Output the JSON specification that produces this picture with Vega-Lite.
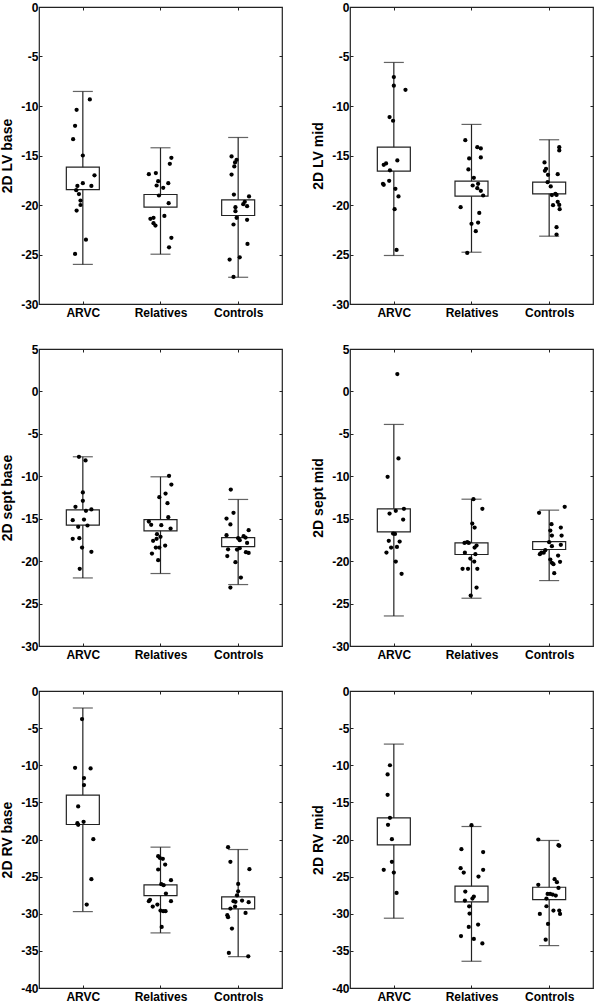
{
"$schema":"https://vega.github.io/schema/vega-lite/v6.json",
"padding":{"left":0,"top":0,"right":0,"bottom":0},
"background":"white",
"columns":2,
"spacing":{"row":45,"column":68},
"bounds":"flush",
"config":{
 "view":{"stroke":"#222","strokeWidth":1.2},
 "scale":{"zero":false},
 "axis":{"grid":false,"domain":false,"labelFont":"Liberation Sans","labelFontWeight":"bold","labelFontSize":12,"labelColor":"black","titleFont":"Liberation Sans","titleFontWeight":"bold","titleFontSize":14,"titleColor":"black","tickColor":"#222","tickSize":-3,"labelPadding":4},
 "axisBottom":{"labelPadding":6}
},
"datasets":{
"sum":[
{"p":"LVb","g":1,"whi":-8.53,"wlo":-26.0,"bhi":-16.18,"blo":-18.44},
{"p":"LVb","g":2,"whi":-14.22,"wlo":-24.97,"bhi":-18.94,"blo":-20.22},
{"p":"LVb","g":3,"whi":-13.18,"wlo":-27.3,"bhi":-19.48,"blo":-21.06},
{"p":"LVm","g":1,"whi":-5.6,"wlo":-25.1,"bhi":-14.16,"blo":-16.58},
{"p":"LVm","g":2,"whi":-11.86,"wlo":-24.77,"bhi":-17.59,"blo":-19.11},
{"p":"LVm","g":3,"whi":-13.41,"wlo":-23.15,"bhi":-17.69,"blo":-18.87},
{"p":"Sb","g":1,"whi":-7.7,"wlo":-21.98,"bhi":-13.95,"blo":-15.76},
{"p":"Sb","g":2,"whi":-10.06,"wlo":-21.46,"bhi":-15.1,"blo":-16.43},
{"p":"Sb","g":3,"whi":-12.73,"wlo":-22.76,"bhi":-17.22,"blo":-18.28},
{"p":"Sm","g":1,"whi":-3.89,"wlo":-26.46,"bhi":-13.84,"blo":-16.55},
{"p":"Sm","g":2,"whi":-12.7,"wlo":-24.37,"bhi":-17.85,"blo":-19.22},
{"p":"Sm","g":3,"whi":-13.99,"wlo":-22.29,"bhi":-17.69,"blo":-18.63},
{"p":"RVb","g":1,"whi":-2.29,"wlo":-29.71,"bhi":-14.02,"blo":-17.98},
{"p":"RVb","g":2,"whi":-21.03,"wlo":-32.58,"bhi":-26.11,"blo":-27.55},
{"p":"RVb","g":3,"whi":-21.35,"wlo":-35.78,"bhi":-27.73,"blo":-29.35},
{"p":"RVm","g":1,"whi":-7.15,"wlo":-30.6,"bhi":-17.08,"blo":-20.72},
{"p":"RVm","g":2,"whi":-18.25,"wlo":-36.4,"bhi":-26.29,"blo":-28.4},
{"p":"RVm","g":3,"whi":-20.13,"wlo":-34.29,"bhi":-26.43,"blo":-28.09}
],
"pts":[
{"p":"LVb","x":1.09,"v":-9.34},{"p":"LVb","x":0.92,"v":-10.38},{"p":"LVb","x":0.90,"v":-12.0},{"p":"LVb","x":0.875,"v":-13.35},{"p":"LVb","x":1.0,"v":-15.0},{"p":"LVb","x":1.15,"v":-17.0},{"p":"LVb","x":1.0,"v":-17.8},{"p":"LVb","x":1.11,"v":-18.07},{"p":"LVb","x":0.93,"v":-18.07},{"p":"LVb","x":0.915,"v":-18.5},{"p":"LVb","x":0.95,"v":-18.9},{"p":"LVb","x":0.97,"v":-19.55},{"p":"LVb","x":0.97,"v":-20.0},{"p":"LVb","x":0.92,"v":-20.56},{"p":"LVb","x":1.04,"v":-23.5},{"p":"LVb","x":0.90,"v":-24.94},
{"p":"LVb","x":2.14,"v":-15.23},{"p":"LVb","x":2.12,"v":-15.84},{"p":"LVb","x":1.85,"v":-16.89},{"p":"LVb","x":1.94,"v":-16.78},{"p":"LVb","x":1.97,"v":-17.6},{"p":"LVb","x":2.10,"v":-17.8},{"p":"LVb","x":1.95,"v":-18.03},{"p":"LVb","x":2.035,"v":-18.27},{"p":"LVb","x":1.98,"v":-19.04},{"p":"LVb","x":2.105,"v":-19.82},{"p":"LVb","x":2.05,"v":-21.1},{"p":"LVb","x":1.91,"v":-21.3},{"p":"LVb","x":1.87,"v":-21.4},{"p":"LVb","x":1.91,"v":-21.84},{"p":"LVb","x":1.935,"v":-22.08},{"p":"LVb","x":2.14,"v":-23.32},{"p":"LVb","x":2.11,"v":-24.27},
{"p":"LVb","x":2.915,"v":-15.1},{"p":"LVb","x":2.98,"v":-15.44},{"p":"LVb","x":2.96,"v":-15.7},{"p":"LVb","x":2.95,"v":-16.1},{"p":"LVb","x":2.915,"v":-16.92},{"p":"LVb","x":2.945,"v":-18.94},{"p":"LVb","x":3.14,"v":-19.14},{"p":"LVb","x":3.085,"v":-19.68},{"p":"LVb","x":3.065,"v":-19.92},{"p":"LVb","x":3.115,"v":-20.12},{"p":"LVb","x":2.965,"v":-20.22},{"p":"LVb","x":2.965,"v":-20.63},{"p":"LVb","x":2.98,"v":-21.3},{"p":"LVb","x":3.115,"v":-21.5},{"p":"LVb","x":2.94,"v":-21.97},{"p":"LVb","x":3.12,"v":-23.93},{"p":"LVb","x":2.89,"v":-25.51},{"p":"LVb","x":3.02,"v":-25.28},{"p":"LVb","x":2.94,"v":-27.27},
{"p":"LVm","x":1.0,"v":-7.08},{"p":"LVm","x":1.0,"v":-7.95},{"p":"LVm","x":1.15,"v":-8.36},{"p":"LVm","x":0.945,"v":-11.12},{"p":"LVm","x":0.99,"v":-11.49},{"p":"LVm","x":0.87,"v":-15.94},{"p":"LVm","x":0.90,"v":-15.8},{"p":"LVm","x":1.045,"v":-15.5},{"p":"LVm","x":0.95,"v":-16.5},{"p":"LVm","x":0.86,"v":-17.86},{"p":"LVm","x":0.87,"v":-17.96},{"p":"LVm","x":0.94,"v":-17.56},{"p":"LVm","x":1.02,"v":-18.37},{"p":"LVm","x":1.06,"v":-19.14},{"p":"LVm","x":1.01,"v":-20.42},{"p":"LVm","x":1.035,"v":-24.54},
{"p":"LVm","x":1.92,"v":-13.45},{"p":"LVm","x":2.075,"v":-14.16},{"p":"LVm","x":2.12,"v":-14.29},{"p":"LVm","x":1.97,"v":-15.3},{"p":"LVm","x":2.12,"v":-15.2},{"p":"LVm","x":1.96,"v":-16.41},{"p":"LVm","x":2.03,"v":-17.26},{"p":"LVm","x":2.015,"v":-18.03},{"p":"LVm","x":2.085,"v":-17.86},{"p":"LVm","x":2.075,"v":-18.3},{"p":"LVm","x":2.12,"v":-18.57},{"p":"LVm","x":2.15,"v":-19.04},{"p":"LVm","x":1.86,"v":-20.22},{"p":"LVm","x":2.10,"v":-20.8},{"p":"LVm","x":2.0,"v":-21.9},{"p":"LVm","x":2.085,"v":-21.77},{"p":"LVm","x":2.055,"v":-22.65},{"p":"LVm","x":1.945,"v":-24.84},
{"p":"LVm","x":3.13,"v":-14.16},{"p":"LVm","x":3.13,"v":-14.49},{"p":"LVm","x":2.94,"v":-15.7},{"p":"LVm","x":2.96,"v":-16.35},{"p":"LVm","x":2.945,"v":-16.55},{"p":"LVm","x":3.11,"v":-16.89},{"p":"LVm","x":2.985,"v":-16.95},{"p":"LVm","x":2.98,"v":-17.7},{"p":"LVm","x":3.02,"v":-18.13},{"p":"LVm","x":3.08,"v":-18.87},{"p":"LVm","x":3.095,"v":-18.98},{"p":"LVm","x":3.035,"v":-19.0},{"p":"LVm","x":3.11,"v":-19.68},{"p":"LVm","x":3.05,"v":-20.02},{"p":"LVm","x":3.13,"v":-19.99},{"p":"LVm","x":3.135,"v":-20.42},{"p":"LVm","x":3.095,"v":-22.24},{"p":"LVm","x":3.095,"v":-22.98},
{"p":"Sb","x":0.95,"v":-7.7},{"p":"Sb","x":1.035,"v":-8.13},{"p":"Sb","x":1.0,"v":-11.91},{"p":"Sb","x":1.0,"v":-12.89},{"p":"Sb","x":0.905,"v":-13.6},{"p":"Sb","x":1.04,"v":-14.07},{"p":"Sb","x":1.11,"v":-13.91},{"p":"Sb","x":0.87,"v":-15.17},{"p":"Sb","x":1.015,"v":-15.1},{"p":"Sb","x":1.06,"v":-15.8},{"p":"Sb","x":0.94,"v":-15.96},{"p":"Sb","x":0.955,"v":-17.3},{"p":"Sb","x":0.87,"v":-17.37},{"p":"Sb","x":0.99,"v":-18.4},{"p":"Sb","x":1.11,"v":-18.9},{"p":"Sb","x":0.96,"v":-20.91},
{"p":"Sb","x":2.11,"v":-9.94},{"p":"Sb","x":2.14,"v":-10.97},{"p":"Sb","x":2.065,"v":-12.03},{"p":"Sb","x":1.985,"v":-12.46},{"p":"Sb","x":2.09,"v":-13.17},{"p":"Sb","x":2.10,"v":-14.82},{"p":"Sb","x":1.85,"v":-15.33},{"p":"Sb","x":1.88,"v":-15.72},{"p":"Sb","x":2.01,"v":-15.76},{"p":"Sb","x":2.13,"v":-16.16},{"p":"Sb","x":1.955,"v":-16.82},{"p":"Sb","x":2.0,"v":-17.14},{"p":"Sb","x":1.95,"v":-17.37},{"p":"Sb","x":1.905,"v":-17.61},{"p":"Sb","x":2.06,"v":-18.16},{"p":"Sb","x":1.94,"v":-18.4},{"p":"Sb","x":1.985,"v":-18.4},{"p":"Sb","x":1.89,"v":-19.1},{"p":"Sb","x":1.97,"v":-19.89},
{"p":"Sb","x":2.905,"v":-11.56},{"p":"Sb","x":2.94,"v":-14.3},{"p":"Sb","x":2.85,"v":-14.98},{"p":"Sb","x":2.90,"v":-15.68},{"p":"Sb","x":3.135,"v":-16.35},{"p":"Sb","x":2.85,"v":-16.94},{"p":"Sb","x":3.07,"v":-17.06},{"p":"Sb","x":3.0,"v":-17.3},{"p":"Sb","x":3.095,"v":-17.22},{"p":"Sb","x":3.02,"v":-17.53},{"p":"Sb","x":3.115,"v":-17.85},{"p":"Sb","x":2.87,"v":-18.6},{"p":"Sb","x":2.985,"v":-18.64},{"p":"Sb","x":3.02,"v":-18.48},{"p":"Sb","x":3.10,"v":-18.95},{"p":"Sb","x":3.135,"v":-19.03},{"p":"Sb","x":2.86,"v":-19.4},{"p":"Sb","x":2.965,"v":-20.12},{"p":"Sb","x":3.035,"v":-21.94},{"p":"Sb","x":2.90,"v":-23.12},
{"p":"Sm","x":1.045,"v":2.05},{"p":"Sm","x":1.06,"v":-7.9},{"p":"Sm","x":0.92,"v":-10.06},{"p":"Sm","x":0.945,"v":-14.39},{"p":"Sm","x":1.025,"v":-14.07},{"p":"Sm","x":1.13,"v":-13.84},{"p":"Sm","x":1.12,"v":-15.1},{"p":"Sm","x":0.99,"v":-16.75},{"p":"Sm","x":1.015,"v":-16.79},{"p":"Sm","x":0.935,"v":-17.61},{"p":"Sm","x":1.075,"v":-17.69},{"p":"Sm","x":0.965,"v":-18.4},{"p":"Sm","x":1.04,"v":-18.32},{"p":"Sm","x":0.905,"v":-18.99},{"p":"Sm","x":1.025,"v":-20.05},{"p":"Sm","x":1.10,"v":-21.5},
{"p":"Sm","x":2.025,"v":-12.7},{"p":"Sm","x":2.14,"v":-13.84},{"p":"Sm","x":2.01,"v":-15.57},{"p":"Sm","x":2.04,"v":-16.04},{"p":"Sm","x":1.91,"v":-17.85},{"p":"Sm","x":1.945,"v":-17.77},{"p":"Sm","x":1.965,"v":-17.85},{"p":"Sm","x":2.065,"v":-18.16},{"p":"Sm","x":2.04,"v":-18.4},{"p":"Sm","x":1.915,"v":-19.0},{"p":"Sm","x":2.05,"v":-19.18},{"p":"Sm","x":1.985,"v":-19.69},{"p":"Sm","x":2.035,"v":-20.05},{"p":"Sm","x":1.885,"v":-20.91},{"p":"Sm","x":1.955,"v":-20.91},{"p":"Sm","x":2.075,"v":-20.91},{"p":"Sm","x":2.065,"v":-23.12},{"p":"Sm","x":1.99,"v":-24.06},
{"p":"Sm","x":3.2,"v":-13.6},{"p":"Sm","x":2.87,"v":-14.3},{"p":"Sm","x":3.15,"v":-16.04},{"p":"Sm","x":3.03,"v":-15.65},{"p":"Sm","x":3.015,"v":-16.4},{"p":"Sm","x":3.035,"v":-16.98},{"p":"Sm","x":3.16,"v":-16.98},{"p":"Sm","x":3.0,"v":-17.77},{"p":"Sm","x":3.035,"v":-18.24},{"p":"Sm","x":3.15,"v":-18.08},{"p":"Sm","x":2.95,"v":-18.71},{"p":"Sm","x":2.93,"v":-19.0},{"p":"Sm","x":2.88,"v":-19.18},{"p":"Sm","x":2.90,"v":-19.0},{"p":"Sm","x":3.115,"v":-19.34},{"p":"Sm","x":3.015,"v":-19.81},{"p":"Sm","x":3.035,"v":-20.2},{"p":"Sm","x":3.055,"v":-20.36},{"p":"Sm","x":3.14,"v":-20.08},{"p":"Sm","x":3.065,"v":-21.42},
{"p":"RVb","x":0.99,"v":-3.78},{"p":"RVb","x":0.90,"v":-10.34},{"p":"RVb","x":1.10,"v":-10.43},{"p":"RVb","x":1.015,"v":-11.73},{"p":"RVb","x":1.015,"v":-12.67},{"p":"RVb","x":0.94,"v":-15.55},{"p":"RVb","x":0.94,"v":-18.02},{"p":"RVb","x":1.01,"v":-17.62},{"p":"RVb","x":0.93,"v":-17.8},{"p":"RVb","x":1.135,"v":-19.96},{"p":"RVb","x":1.11,"v":-25.35},{"p":"RVb","x":1.05,"v":-28.76},
{"p":"RVb","x":1.97,"v":-22.25},{"p":"RVb","x":1.99,"v":-22.47},{"p":"RVb","x":2.03,"v":-22.6},{"p":"RVb","x":2.06,"v":-23.37},{"p":"RVb","x":1.97,"v":-24.04},{"p":"RVb","x":2.135,"v":-25.48},{"p":"RVb","x":2.01,"v":-26.02},{"p":"RVb","x":2.04,"v":-26.16},{"p":"RVb","x":2.07,"v":-27.28},{"p":"RVb","x":1.865,"v":-28.13},{"p":"RVb","x":1.85,"v":-28.31},{"p":"RVb","x":1.96,"v":-28.76},{"p":"RVb","x":1.90,"v":-29.03},{"p":"RVb","x":2.0,"v":-29.57},{"p":"RVb","x":2.035,"v":-29.66},{"p":"RVb","x":2.065,"v":-29.66},{"p":"RVb","x":2.135,"v":-28.31},{"p":"RVb","x":2.015,"v":-31.78},
{"p":"RVb","x":2.87,"v":-21.03},{"p":"RVb","x":2.90,"v":-23.01},{"p":"RVb","x":3.145,"v":-24.0},{"p":"RVb","x":3.0,"v":-25.98},{"p":"RVb","x":3.0,"v":-26.97},{"p":"RVb","x":2.985,"v":-27.51},{"p":"RVb","x":3.05,"v":-28.22},{"p":"RVb","x":2.94,"v":-28.31},{"p":"RVb","x":2.965,"v":-28.4},{"p":"RVb","x":3.135,"v":-28.45},{"p":"RVb","x":2.96,"v":-29.03},{"p":"RVb","x":2.90,"v":-29.3},{"p":"RVb","x":2.86,"v":-30.2},{"p":"RVb","x":2.87,"v":-30.47},{"p":"RVb","x":3.095,"v":-29.89},{"p":"RVb","x":2.92,"v":-32.0},{"p":"RVb","x":2.88,"v":-35.28},{"p":"RVb","x":3.13,"v":-35.73},
{"p":"RVm","x":0.95,"v":-10.0},{"p":"RVm","x":0.92,"v":-11.24},{"p":"RVm","x":0.92,"v":-13.98},{"p":"RVm","x":0.95,"v":-17.08},{"p":"RVm","x":0.925,"v":-18.02},{"p":"RVm","x":0.975,"v":-19.96},{"p":"RVm","x":0.975,"v":-23.01},{"p":"RVm","x":0.87,"v":-24.09},{"p":"RVm","x":1.0,"v":-24.45},{"p":"RVm","x":1.035,"v":-27.19},
{"p":"RVm","x":2.0,"v":-18.07},{"p":"RVm","x":1.87,"v":-21.3},{"p":"RVm","x":2.15,"v":-21.7},{"p":"RVm","x":1.86,"v":-23.87},{"p":"RVm","x":1.90,"v":-24.45},{"p":"RVm","x":2.15,"v":-24.09},{"p":"RVm","x":2.09,"v":-24.99},{"p":"RVm","x":1.92,"v":-27.01},{"p":"RVm","x":2.03,"v":-27.69},{"p":"RVm","x":2.012,"v":-27.96},{"p":"RVm","x":1.915,"v":-28.22},{"p":"RVm","x":1.97,"v":-29.0},{"p":"RVm","x":1.975,"v":-29.97},{"p":"RVm","x":2.085,"v":-31.46},{"p":"RVm","x":1.965,"v":-31.78},{"p":"RVm","x":1.865,"v":-33.0},{"p":"RVm","x":2.03,"v":-33.4},{"p":"RVm","x":2.14,"v":-34.0},
{"p":"RVm","x":2.86,"v":-20.0},{"p":"RVm","x":3.13,"v":-20.85},{"p":"RVm","x":3.12,"v":-20.76},{"p":"RVm","x":3.07,"v":-25.35},{"p":"RVm","x":3.10,"v":-25.75},{"p":"RVm","x":2.86,"v":-26.11},{"p":"RVm","x":3.12,"v":-26.52},{"p":"RVm","x":2.98,"v":-27.33},{"p":"RVm","x":3.012,"v":-27.33},{"p":"RVm","x":3.045,"v":-27.42},{"p":"RVm","x":3.085,"v":-27.55},{"p":"RVm","x":2.965,"v":-27.96},{"p":"RVm","x":2.965,"v":-28.99},{"p":"RVm","x":2.88,"v":-30.02},{"p":"RVm","x":3.055,"v":-29.57},{"p":"RVm","x":3.13,"v":-29.57},{"p":"RVm","x":3.14,"v":-30.02},{"p":"RVm","x":2.985,"v":-31.37},{"p":"RVm","x":2.955,"v":-33.5}
]
},
"concat":[
{"width":243,"height":297,"layer":[
 {"data":{"name":"sum"},"transform":[{"filter":"datum.p=='LVb'"}],"mark":{"type":"rule","color":"#222","strokeWidth":1.2},"encoding":{"x":{"field":"g","type":"quantitative","scale":{"domain":[0.5,3.5],"nice":false,"zero":false},"axis":{"orient":"bottom","values":[1,2,3],"labelExpr":"datum.value==1?'ARVC':datum.value==2?'Relatives':'Controls'","title":null}},"y":{"field":"wlo","type":"quantitative","scale":{"domain":[-30,0],"nice":false},"axis":{"orient":"left","values":[-30,-25,-20,-15,-10,-5,0],"labelExpr":"toString(datum.value)","title":"2D LV base","titlePadding":6}},"y2":{"field":"whi"}}},
 {"data":{"name":"sum"},"transform":[{"filter":"datum.p=='LVb'"}],"mark":{"type":"tick","orient":"horizontal","size":20,"thickness":1.2,"color":"#222"},"encoding":{"x":{"field":"g","type":"quantitative","axis":{"orient":"top","values":[1,2,3],"labels":false,"title":null}},"y":{"field":"whi","type":"quantitative","axis":{"orient":"right","values":[-30,-25,-20,-15,-10,-5,0],"labels":false,"title":null}}}},
 {"data":{"name":"sum"},"transform":[{"filter":"datum.p=='LVb'"}],"mark":{"type":"tick","orient":"horizontal","size":20,"thickness":1.2,"color":"#222"},"encoding":{"x":{"field":"g","type":"quantitative","axis":null},"y":{"field":"wlo","type":"quantitative","axis":null}}},
 {"data":{"name":"sum"},"transform":[{"filter":"datum.p=='LVb'"}],"mark":{"type":"bar","size":33,"fill":"white","stroke":"#222","strokeWidth":1.2},"encoding":{"x":{"field":"g","type":"quantitative","axis":null},"y":{"field":"blo","type":"quantitative","axis":null},"y2":{"field":"bhi"}}},
 {"data":{"name":"pts"},"transform":[{"filter":"datum.p=='LVb'"}],"mark":{"type":"circle","size":18,"color":"black","opacity":1},"encoding":{"x":{"field":"x","type":"quantitative","axis":null},"y":{"field":"v","type":"quantitative","axis":null}}}
],"resolve":{"axis":{"x":"independent","y":"independent"}}},
{"width":243,"height":297,"layer":[
 {"data":{"name":"sum"},"transform":[{"filter":"datum.p=='LVm'"}],"mark":{"type":"rule","color":"#222","strokeWidth":1.2},"encoding":{"x":{"field":"g","type":"quantitative","scale":{"domain":[0.5,3.5],"nice":false,"zero":false},"axis":{"orient":"bottom","values":[1,2,3],"labelExpr":"datum.value==1?'ARVC':datum.value==2?'Relatives':'Controls'","title":null}},"y":{"field":"wlo","type":"quantitative","scale":{"domain":[-30,0],"nice":false},"axis":{"orient":"left","values":[-30,-25,-20,-15,-10,-5,0],"labelExpr":"toString(datum.value)","title":"2D LV mid","titlePadding":6}},"y2":{"field":"whi"}}},
 {"data":{"name":"sum"},"transform":[{"filter":"datum.p=='LVm'"}],"mark":{"type":"tick","orient":"horizontal","size":20,"thickness":1.2,"color":"#222"},"encoding":{"x":{"field":"g","type":"quantitative","axis":{"orient":"top","values":[1,2,3],"labels":false,"title":null}},"y":{"field":"whi","type":"quantitative","axis":{"orient":"right","values":[-30,-25,-20,-15,-10,-5,0],"labels":false,"title":null}}}},
 {"data":{"name":"sum"},"transform":[{"filter":"datum.p=='LVm'"}],"mark":{"type":"tick","orient":"horizontal","size":20,"thickness":1.2,"color":"#222"},"encoding":{"x":{"field":"g","type":"quantitative","axis":null},"y":{"field":"wlo","type":"quantitative","axis":null}}},
 {"data":{"name":"sum"},"transform":[{"filter":"datum.p=='LVm'"}],"mark":{"type":"bar","size":33,"fill":"white","stroke":"#222","strokeWidth":1.2},"encoding":{"x":{"field":"g","type":"quantitative","axis":null},"y":{"field":"blo","type":"quantitative","axis":null},"y2":{"field":"bhi"}}},
 {"data":{"name":"pts"},"transform":[{"filter":"datum.p=='LVm'"}],"mark":{"type":"circle","size":18,"color":"black","opacity":1},"encoding":{"x":{"field":"x","type":"quantitative","axis":null},"y":{"field":"v","type":"quantitative","axis":null}}}
],"resolve":{"axis":{"x":"independent","y":"independent"}}},
{"width":243,"height":297,"layer":[
 {"data":{"name":"sum"},"transform":[{"filter":"datum.p=='Sb'"}],"mark":{"type":"rule","color":"#222","strokeWidth":1.2},"encoding":{"x":{"field":"g","type":"quantitative","scale":{"domain":[0.5,3.5],"nice":false,"zero":false},"axis":{"orient":"bottom","values":[1,2,3],"labelExpr":"datum.value==1?'ARVC':datum.value==2?'Relatives':'Controls'","title":null}},"y":{"field":"wlo","type":"quantitative","scale":{"domain":[-30,5],"nice":false},"axis":{"orient":"left","values":[-30,-25,-20,-15,-10,-5,0,5],"labelExpr":"toString(datum.value)","title":"2D sept base","titlePadding":6}},"y2":{"field":"whi"}}},
 {"data":{"name":"sum"},"transform":[{"filter":"datum.p=='Sb'"}],"mark":{"type":"tick","orient":"horizontal","size":20,"thickness":1.2,"color":"#222"},"encoding":{"x":{"field":"g","type":"quantitative","axis":{"orient":"top","values":[1,2,3],"labels":false,"title":null}},"y":{"field":"whi","type":"quantitative","axis":{"orient":"right","values":[-30,-25,-20,-15,-10,-5,0,5],"labels":false,"title":null}}}},
 {"data":{"name":"sum"},"transform":[{"filter":"datum.p=='Sb'"}],"mark":{"type":"tick","orient":"horizontal","size":20,"thickness":1.2,"color":"#222"},"encoding":{"x":{"field":"g","type":"quantitative","axis":null},"y":{"field":"wlo","type":"quantitative","axis":null}}},
 {"data":{"name":"sum"},"transform":[{"filter":"datum.p=='Sb'"}],"mark":{"type":"bar","size":33,"fill":"white","stroke":"#222","strokeWidth":1.2},"encoding":{"x":{"field":"g","type":"quantitative","axis":null},"y":{"field":"blo","type":"quantitative","axis":null},"y2":{"field":"bhi"}}},
 {"data":{"name":"pts"},"transform":[{"filter":"datum.p=='Sb'"}],"mark":{"type":"circle","size":18,"color":"black","opacity":1},"encoding":{"x":{"field":"x","type":"quantitative","axis":null},"y":{"field":"v","type":"quantitative","axis":null}}}
],"resolve":{"axis":{"x":"independent","y":"independent"}}},
{"width":243,"height":297,"layer":[
 {"data":{"name":"sum"},"transform":[{"filter":"datum.p=='Sm'"}],"mark":{"type":"rule","color":"#222","strokeWidth":1.2},"encoding":{"x":{"field":"g","type":"quantitative","scale":{"domain":[0.5,3.5],"nice":false,"zero":false},"axis":{"orient":"bottom","values":[1,2,3],"labelExpr":"datum.value==1?'ARVC':datum.value==2?'Relatives':'Controls'","title":null}},"y":{"field":"wlo","type":"quantitative","scale":{"domain":[-30,5],"nice":false},"axis":{"orient":"left","values":[-30,-25,-20,-15,-10,-5,0,5],"labelExpr":"toString(datum.value)","title":"2D sept mid","titlePadding":6}},"y2":{"field":"whi"}}},
 {"data":{"name":"sum"},"transform":[{"filter":"datum.p=='Sm'"}],"mark":{"type":"tick","orient":"horizontal","size":20,"thickness":1.2,"color":"#222"},"encoding":{"x":{"field":"g","type":"quantitative","axis":{"orient":"top","values":[1,2,3],"labels":false,"title":null}},"y":{"field":"whi","type":"quantitative","axis":{"orient":"right","values":[-30,-25,-20,-15,-10,-5,0,5],"labels":false,"title":null}}}},
 {"data":{"name":"sum"},"transform":[{"filter":"datum.p=='Sm'"}],"mark":{"type":"tick","orient":"horizontal","size":20,"thickness":1.2,"color":"#222"},"encoding":{"x":{"field":"g","type":"quantitative","axis":null},"y":{"field":"wlo","type":"quantitative","axis":null}}},
 {"data":{"name":"sum"},"transform":[{"filter":"datum.p=='Sm'"}],"mark":{"type":"bar","size":33,"fill":"white","stroke":"#222","strokeWidth":1.2},"encoding":{"x":{"field":"g","type":"quantitative","axis":null},"y":{"field":"blo","type":"quantitative","axis":null},"y2":{"field":"bhi"}}},
 {"data":{"name":"pts"},"transform":[{"filter":"datum.p=='Sm'"}],"mark":{"type":"circle","size":18,"color":"black","opacity":1},"encoding":{"x":{"field":"x","type":"quantitative","axis":null},"y":{"field":"v","type":"quantitative","axis":null}}}
],"resolve":{"axis":{"x":"independent","y":"independent"}}},
{"width":243,"height":297,"layer":[
 {"data":{"name":"sum"},"transform":[{"filter":"datum.p=='RVb'"}],"mark":{"type":"rule","color":"#222","strokeWidth":1.2},"encoding":{"x":{"field":"g","type":"quantitative","scale":{"domain":[0.5,3.5],"nice":false,"zero":false},"axis":{"orient":"bottom","values":[1,2,3],"labelExpr":"datum.value==1?'ARVC':datum.value==2?'Relatives':'Controls'","title":null}},"y":{"field":"wlo","type":"quantitative","scale":{"domain":[-40,0],"nice":false},"axis":{"orient":"left","values":[-40,-35,-30,-25,-20,-15,-10,-5,0],"labelExpr":"toString(datum.value)","title":"2D RV base","titlePadding":6}},"y2":{"field":"whi"}}},
 {"data":{"name":"sum"},"transform":[{"filter":"datum.p=='RVb'"}],"mark":{"type":"tick","orient":"horizontal","size":20,"thickness":1.2,"color":"#222"},"encoding":{"x":{"field":"g","type":"quantitative","axis":{"orient":"top","values":[1,2,3],"labels":false,"title":null}},"y":{"field":"whi","type":"quantitative","axis":{"orient":"right","values":[-40,-35,-30,-25,-20,-15,-10,-5,0],"labels":false,"title":null}}}},
 {"data":{"name":"sum"},"transform":[{"filter":"datum.p=='RVb'"}],"mark":{"type":"tick","orient":"horizontal","size":20,"thickness":1.2,"color":"#222"},"encoding":{"x":{"field":"g","type":"quantitative","axis":null},"y":{"field":"wlo","type":"quantitative","axis":null}}},
 {"data":{"name":"sum"},"transform":[{"filter":"datum.p=='RVb'"}],"mark":{"type":"bar","size":33,"fill":"white","stroke":"#222","strokeWidth":1.2},"encoding":{"x":{"field":"g","type":"quantitative","axis":null},"y":{"field":"blo","type":"quantitative","axis":null},"y2":{"field":"bhi"}}},
 {"data":{"name":"pts"},"transform":[{"filter":"datum.p=='RVb'"}],"mark":{"type":"circle","size":18,"color":"black","opacity":1},"encoding":{"x":{"field":"x","type":"quantitative","axis":null},"y":{"field":"v","type":"quantitative","axis":null}}}
],"resolve":{"axis":{"x":"independent","y":"independent"}}},
{"width":243,"height":297,"layer":[
 {"data":{"name":"sum"},"transform":[{"filter":"datum.p=='RVm'"}],"mark":{"type":"rule","color":"#222","strokeWidth":1.2},"encoding":{"x":{"field":"g","type":"quantitative","scale":{"domain":[0.5,3.5],"nice":false,"zero":false},"axis":{"orient":"bottom","values":[1,2,3],"labelExpr":"datum.value==1?'ARVC':datum.value==2?'Relatives':'Controls'","title":null}},"y":{"field":"wlo","type":"quantitative","scale":{"domain":[-40,0],"nice":false},"axis":{"orient":"left","values":[-40,-35,-30,-25,-20,-15,-10,-5,0],"labelExpr":"toString(datum.value)","title":"2D RV mid","titlePadding":6}},"y2":{"field":"whi"}}},
 {"data":{"name":"sum"},"transform":[{"filter":"datum.p=='RVm'"}],"mark":{"type":"tick","orient":"horizontal","size":20,"thickness":1.2,"color":"#222"},"encoding":{"x":{"field":"g","type":"quantitative","axis":{"orient":"top","values":[1,2,3],"labels":false,"title":null}},"y":{"field":"whi","type":"quantitative","axis":{"orient":"right","values":[-40,-35,-30,-25,-20,-15,-10,-5,0],"labels":false,"title":null}}}},
 {"data":{"name":"sum"},"transform":[{"filter":"datum.p=='RVm'"}],"mark":{"type":"tick","orient":"horizontal","size":20,"thickness":1.2,"color":"#222"},"encoding":{"x":{"field":"g","type":"quantitative","axis":null},"y":{"field":"wlo","type":"quantitative","axis":null}}},
 {"data":{"name":"sum"},"transform":[{"filter":"datum.p=='RVm'"}],"mark":{"type":"bar","size":33,"fill":"white","stroke":"#222","strokeWidth":1.2},"encoding":{"x":{"field":"g","type":"quantitative","axis":null},"y":{"field":"blo","type":"quantitative","axis":null},"y2":{"field":"bhi"}}},
 {"data":{"name":"pts"},"transform":[{"filter":"datum.p=='RVm'"}],"mark":{"type":"circle","size":18,"color":"black","opacity":1},"encoding":{"x":{"field":"x","type":"quantitative","axis":null},"y":{"field":"v","type":"quantitative","axis":null}}}
],"resolve":{"axis":{"x":"independent","y":"independent"}}}
]
}
